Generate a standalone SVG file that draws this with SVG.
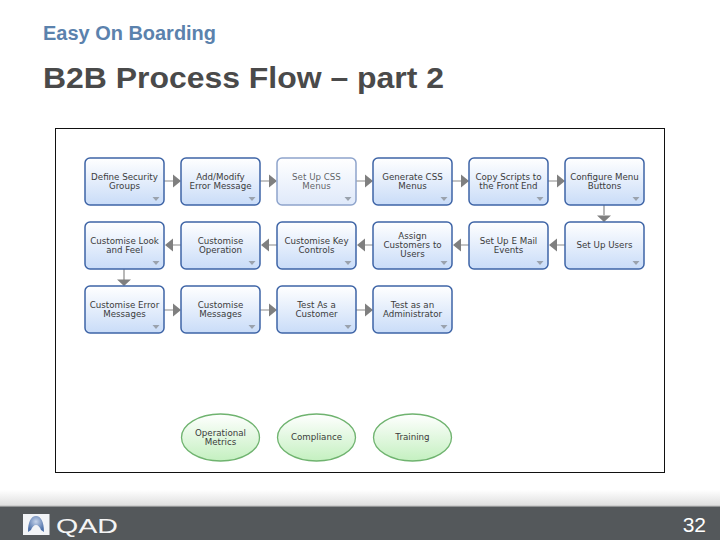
<svg xmlns="http://www.w3.org/2000/svg" width="720" height="540" viewBox="0 0 720 540">
<style>
text{font-family:"Liberation Sans",Arial,sans-serif}
.n{fill:url(#bl);stroke:#3e64a6;stroke-width:1.5}
.f{fill:url(#blf);stroke:#8ea4cc;stroke-width:1.5}
.o{fill:url(#gr);stroke:#6fb36f;stroke-width:1.3}
.t{font-family:"DejaVu Sans",Verdana,sans-serif;font-size:8.7px;fill:#3b3b3b;text-anchor:middle}
.d{fill:#9aa2ad}
.c{fill:none;stroke:#8a8a8a;stroke-width:1.2}
.a{fill:#7f7f7f}
</style>
<defs>
<linearGradient id="bl" x1="0" y1="0" x2="0" y2="1"><stop offset="0" stop-color="#ffffff"/><stop offset="1" stop-color="#c9dcf8"/></linearGradient>
<linearGradient id="blf" x1="0" y1="0" x2="0" y2="1"><stop offset="0" stop-color="#ffffff"/><stop offset="1" stop-color="#dfe9fa"/></linearGradient>
<linearGradient id="gr" x1="0" y1="0" x2="0" y2="1"><stop offset="0" stop-color="#ffffff"/><stop offset="1" stop-color="#c4f0c0"/></linearGradient>
<linearGradient id="sh" x1="0" y1="0" x2="0" y2="1"><stop offset="0" stop-color="#ffffff"/><stop offset="1" stop-color="#dedede"/></linearGradient>
<radialGradient id="gl" cx="0.5" cy="0.35" r="0.6"><stop offset="0" stop-color="#c5d3ea"/><stop offset="1" stop-color="#4d70a8"/></radialGradient>
<rect id="box" width="79" height="47" rx="5"/>
<path id="tri" d="M-3.500 0h7l-3.500 4z"/>
</defs>
<rect width="720" height="540" fill="#fff"/>
<text x="43" y="40" font-size="20" font-weight="bold" fill="#5b82ad" textLength="173" lengthAdjust="spacingAndGlyphs">Easy On Boarding</text>
<text x="43" y="88" font-size="30" font-weight="bold" fill="#4a4a4a" textLength="401" lengthAdjust="spacingAndGlyphs">B2B Process Flow – part 2</text>
<rect x="55.500" y="128.500" width="609" height="344" fill="#fff" stroke="#111" stroke-width="1"/>
<g id="connectors">
<path class="c" d="M164 181h10M260 181h10M356 181h10M452 181h10M548 181h10M565 245h-10M469 245h-10M373 245h-10M277 245h-10M181 245h-10M164 310h10M260 310h10M356 310h10M604 205v10M124 269v11"/>
<path class="a" d="M173 174.500l8 6.500-8 6.500zM269 174.500l8 6.500-8 6.500zM365 174.500l8 6.500-8 6.500zM461 174.500l8 6.500-8 6.500zM557 174.500l8 6.500-8 6.500zM557 238.500l-8 6.500 8 6.500zM461 238.500l-8 6.500 8 6.500zM365 238.500l-8 6.500 8 6.500zM269 238.500l-8 6.500 8 6.500zM173 238.500l-8 6.500 8 6.500zM173 303.500l8 6.500-8 6.500zM269 303.500l8 6.500-8 6.500zM365 303.500l8 6.500-8 6.500zM597 215.500l7 6.500 7-6.500zM117 279.500l7 6.500 7-6.500z"/>
</g>
<g id="n1"><use href="#box" class="n" x="85" y="158"/><use href="#tri" class="d" x="156" y="197"/><text class="t" x="124.500" y="179.500">Define Security</text><text class="t" x="124.500" y="188.500">Groups</text></g>
<g id="n2"><use href="#box" class="n" x="181" y="158"/><use href="#tri" class="d" x="252" y="197"/><text class="t" x="220.500" y="179.500">Add/Modify</text><text class="t" x="220.500" y="188.500">Error Message</text></g>
<g id="n3"><use href="#box" class="f" x="277" y="158"/><use href="#tri" class="d" x="348" y="197"/><text class="t" x="316.500" y="179.500" fill-opacity=".8">Set Up CSS</text><text class="t" x="316.500" y="188.500" fill-opacity=".8">Menus</text></g>
<g id="n4"><use href="#box" class="n" x="373" y="158"/><use href="#tri" class="d" x="444" y="197"/><text class="t" x="412.500" y="179.500">Generate CSS</text><text class="t" x="412.500" y="188.500">Menus</text></g>
<g id="n5"><use href="#box" class="n" x="469" y="158"/><use href="#tri" class="d" x="540" y="197"/><text class="t" x="508.500" y="179.500">Copy Scripts to</text><text class="t" x="508.500" y="188.500">the Front End</text></g>
<g id="n6"><use href="#box" class="n" x="565" y="158"/><use href="#tri" class="d" x="636" y="197"/><text class="t" x="604.500" y="179.500">Configure Menu</text><text class="t" x="604.500" y="188.500">Buttons</text></g>
<g id="n7"><use href="#box" class="n" x="85" y="222"/><use href="#tri" class="d" x="156" y="261"/><text class="t" x="124.500" y="244">Customise Look</text><text class="t" x="124.500" y="253">and Feel</text></g>
<g id="n8"><use href="#box" class="n" x="181" y="222"/><use href="#tri" class="d" x="252" y="261"/><text class="t" x="220.500" y="244">Customise</text><text class="t" x="220.500" y="253">Operation</text></g>
<g id="n9"><use href="#box" class="n" x="277" y="222"/><use href="#tri" class="d" x="348" y="261"/><text class="t" x="316.500" y="244">Customise Key</text><text class="t" x="316.500" y="253">Controls</text></g>
<g id="n10"><use href="#box" class="n" x="373" y="222"/><use href="#tri" class="d" x="444" y="261"/><text class="t" x="412.500" y="239">Assign</text><text class="t" x="412.500" y="248">Customers to</text><text class="t" x="412.500" y="257">Users</text></g>
<g id="n11"><use href="#box" class="n" x="469" y="222"/><use href="#tri" class="d" x="540" y="261"/><text class="t" x="508.500" y="244">Set Up E Mail</text><text class="t" x="508.500" y="253">Events</text></g>
<g id="n12"><use href="#box" class="n" x="565" y="222"/><use href="#tri" class="d" x="636" y="261"/><text class="t" x="604.500" y="248">Set Up Users</text></g>
<g id="n13"><use href="#box" class="n" x="85" y="286"/><use href="#tri" class="d" x="156" y="325"/><text class="t" x="124.500" y="308">Customise Error</text><text class="t" x="124.500" y="317">Messages</text></g>
<g id="n14"><use href="#box" class="n" x="181" y="286"/><use href="#tri" class="d" x="252" y="325"/><text class="t" x="220.500" y="308">Customise</text><text class="t" x="220.500" y="317">Messages</text></g>
<g id="n15"><use href="#box" class="n" x="277" y="286"/><use href="#tri" class="d" x="348" y="325"/><text class="t" x="316.500" y="308">Test As a</text><text class="t" x="316.500" y="317">Customer</text></g>
<g id="n16"><use href="#box" class="n" x="373" y="286"/><use href="#tri" class="d" x="444" y="325"/><text class="t" x="412.500" y="308">Test as an</text><text class="t" x="412.500" y="317">Administrator</text></g>
<g id="o1"><ellipse class="o" cx="220.500" cy="437.500" rx="39" ry="23.500"/><text class="t" x="220.500" y="436">Operational</text><text class="t" x="220.500" y="445">Metrics</text></g>
<g id="o2"><ellipse class="o" cx="316.500" cy="437.500" rx="39" ry="23.500"/><text class="t" x="316.500" y="440">Compliance</text></g>
<g id="o3"><ellipse class="o" cx="412.500" cy="437.500" rx="39" ry="23.500"/><text class="t" x="412.500" y="440">Training</text></g>
<rect y="490" width="720" height="16" fill="url(#sh)"/>
<rect y="506" width="720" height="34" fill="#54585b"/>
<rect y="505" width="720" height="1.500" fill="#cfcfcf"/>
<g id="logo">
<rect x="23" y="514" width="26.500" height="21" fill="#f2f4f7"/>
<path d="M28 532c0-10 3-16 8-16s8 6 8 16l-3-2c-1-3-3-5-5-5s-4 2-5 5z" fill="url(#gl)"/>
<text x="56" y="533" font-size="21" fill="#f4f4f4" textLength="62" lengthAdjust="spacingAndGlyphs">QAD</text>
</g>
<text x="706" y="532" font-size="21" fill="#fff" text-anchor="end">32</text>
</svg>
